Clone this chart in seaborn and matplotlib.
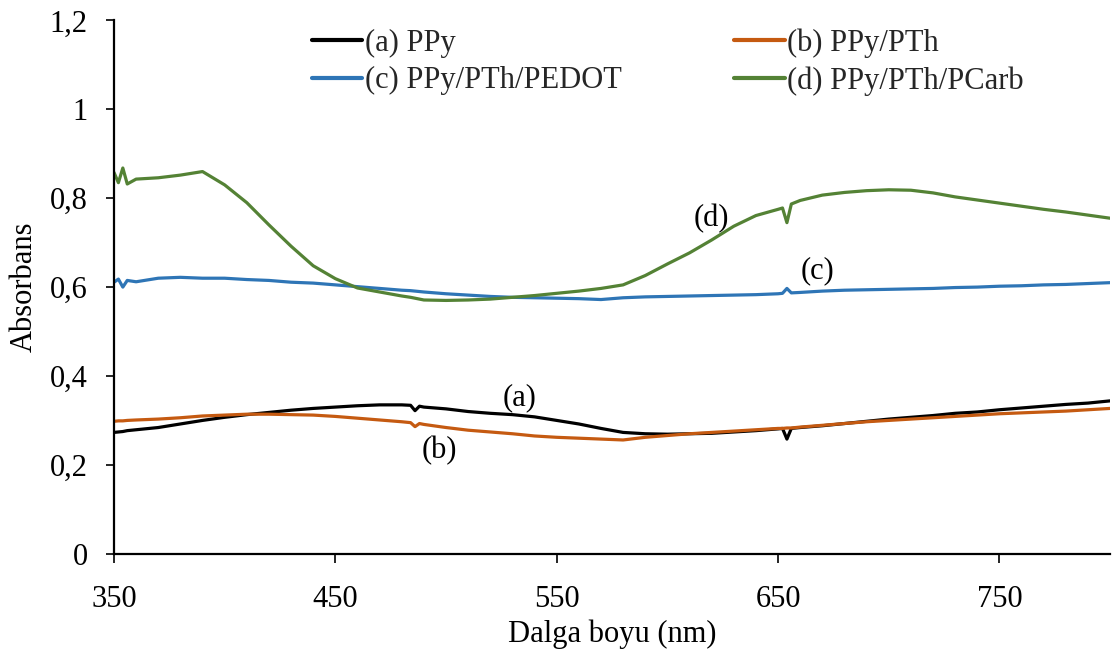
import pandas as pd
import matplotlib
matplotlib.use("Agg")
import matplotlib.pyplot as plt
from matplotlib.ticker import FuncFormatter
import seaborn as sns

# wavelength grid (nm); extra points near the small spikes
wavelength = [350, 352, 354, 356, 360, 370, 380, 390, 400, 410, 420, 430, 440, 450,
              460, 470, 480, 484, 486, 488, 490, 500, 510, 520, 530, 540, 550, 560,
              570, 580, 590, 600, 610, 620, 630, 640, 650, 652, 654, 656, 660, 670,
              680, 690, 700, 710, 720, 730, 740, 750, 760, 770, 780, 790, 800]

ppy = [0.273, 0.274, 0.275, 0.277, 0.279, 0.284, 0.292, 0.300, 0.307, 0.313, 0.318,
       0.323, 0.327, 0.330, 0.333, 0.335, 0.335, 0.334, 0.322, 0.332, 0.330, 0.326,
       0.320, 0.316, 0.313, 0.308, 0.300, 0.292, 0.282, 0.273, 0.270, 0.269, 0.270,
       0.271, 0.274, 0.277, 0.281, 0.282, 0.258, 0.282, 0.284, 0.288, 0.293, 0.298,
       0.303, 0.307, 0.311, 0.316, 0.319, 0.324, 0.328, 0.332, 0.336, 0.339, 0.344]

ppy_pth = [0.298, 0.299, 0.299, 0.300, 0.301, 0.303, 0.306, 0.310, 0.312, 0.314, 0.314,
           0.313, 0.312, 0.309, 0.305, 0.301, 0.297, 0.295, 0.286, 0.293, 0.291, 0.284,
           0.278, 0.274, 0.270, 0.265, 0.262, 0.260, 0.258, 0.256, 0.262, 0.266, 0.270,
           0.273, 0.276, 0.279, 0.282, 0.282, 0.283, 0.283, 0.285, 0.289, 0.293, 0.297,
           0.300, 0.303, 0.306, 0.309, 0.312, 0.315, 0.317, 0.319, 0.321, 0.324, 0.327]

ppy_pth_pedot = [0.611, 0.618, 0.600, 0.615, 0.612, 0.620, 0.622, 0.620, 0.620, 0.617,
                 0.615, 0.611, 0.609, 0.605, 0.601, 0.597, 0.593, 0.592, 0.591, 0.590,
                 0.589, 0.585, 0.582, 0.579, 0.577, 0.576, 0.575, 0.574, 0.572, 0.576,
                 0.578, 0.579, 0.580, 0.581, 0.582, 0.583, 0.585, 0.586, 0.597, 0.587,
                 0.588, 0.591, 0.593, 0.594, 0.595, 0.596, 0.597, 0.599, 0.600, 0.602,
                 0.603, 0.605, 0.606, 0.608, 0.610]

ppy_pth_pcarb = [0.858, 0.835, 0.868, 0.832, 0.843, 0.846, 0.852, 0.860, 0.830, 0.790,
                 0.740, 0.692, 0.648, 0.619, 0.598, 0.589, 0.580, 0.577, 0.575, 0.573,
                 0.571, 0.570, 0.571, 0.573, 0.577, 0.581, 0.586, 0.591, 0.597, 0.605,
                 0.626, 0.652, 0.677, 0.706, 0.737, 0.761, 0.775, 0.778, 0.745, 0.787,
                 0.795, 0.807, 0.813, 0.817, 0.819, 0.818, 0.812, 0.803, 0.796, 0.789,
                 0.782, 0.775, 0.769, 0.762, 0.755]

series_names = ["(a) PPy", "(b) PPy/PTh", "(c) PPy/PTh/PEDOT", "(d) PPy/PTh/PCarb"]
colors = ["#000000", "#C55A11", "#2E75B6", "#548235"]

# short curve tags and where they sit (nm, absorbance)
tags = ["(a)", "(b)", "(c)", "(d)"]
tag_x = [533, 497, 668, 620]
tag_y = [0.351, 0.232, 0.637, 0.754]

xticks = [350, 450, 550, 650, 750]
yticks = [0, 0.2, 0.4, 0.6, 0.8, 1.0, 1.2]

frames = []
for name, vals in zip(series_names, [ppy, ppy_pth, ppy_pth_pedot, ppy_pth_pcarb]):
    frames.append(pd.DataFrame({"wl": wavelength, "abs": vals, "sample": name}))
df = pd.concat(frames, ignore_index=True)

FS = 22

sns.set_theme(style="white")
plt.rcParams["font.family"] = ["Liberation Serif", "DejaVu Serif"]
plt.rcParams["font.size"] = FS

fig = plt.figure(figsize=(11.13, 6.6), dpi=100)
ax = fig.add_axes([0.1024, 0.161, 0.895, 0.808])

sns.lineplot(data=df, x="wl", y="abs", hue="sample", hue_order=series_names,
             palette=colors, linewidth=2.3, ax=ax, legend=True)

ax.set_xlim(350, 800)
ax.set_ylim(0, 1.2)
ax.set_xticks(xticks)
ax.set_yticks(yticks)
ax.yaxis.set_major_formatter(FuncFormatter(lambda v, p: f"{v:g}".replace(".", ",")))

for s in ["top", "right"]:
    ax.spines[s].set_visible(False)
for s in ["left", "bottom"]:
    ax.spines[s].set_color("black")
    ax.spines[s].set_linewidth(1.6)

ax.tick_params(axis="x", direction="out", length=6.5, width=1.2, pad=16,
               labelsize=FS, colors="black", bottom=True)
ax.tick_params(axis="y", direction="out", length=6, width=1.2, pad=13,
               labelsize=FS, colors="black", left=True)

ax.set_xlabel("Dalga boyu (nm)", fontsize=FS, color="black", labelpad=4)
ax.set_ylabel("Absorbans", fontsize=FS, color="black", labelpad=8)

for t, x, y in zip(tags, tag_x, tag_y):
    ax.text(x, y, t, ha="center", va="center", fontsize=FS, color="black")

# legend fills row by row in the original: (a) (b) / (c) (d)
handles, labels = ax.get_legend_handles_labels()
order = [0, 2, 1, 3]
handles = [handles[i] for i in order]
labels = [labels[i] for i in order]
for h in handles:
    h.set_linewidth(3)
ax.legend(handles, labels, ncol=2, frameon=False, loc="upper left",
          bbox_to_anchor=(312 / 1113, 1 - 28 / 660), bbox_transform=fig.transFigure,
          borderpad=0, borderaxespad=0, handlelength=1.65, handletextpad=0.07,
          columnspacing=3.7, labelspacing=0.29, fontsize=FS)

fig.savefig("out.png", dpi=100)
